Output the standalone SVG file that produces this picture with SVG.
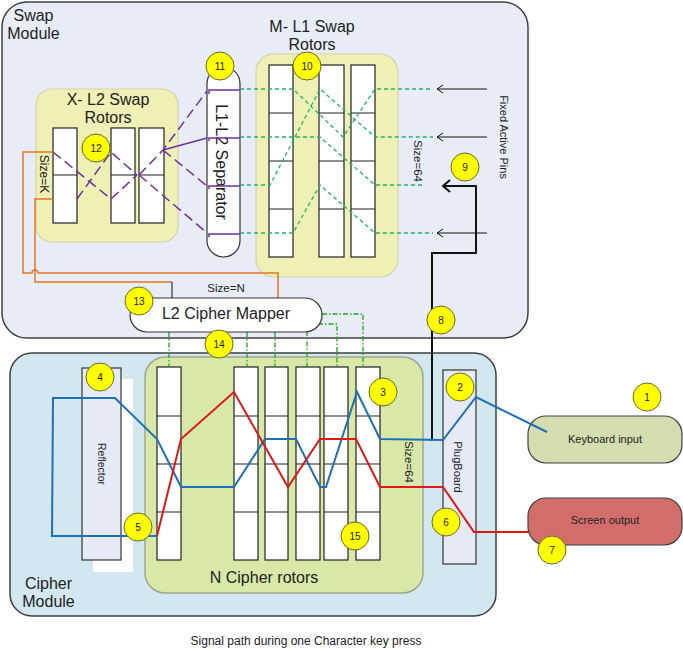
<svg xmlns="http://www.w3.org/2000/svg" width="683" height="650" viewBox="0 0 683 650">
<style>
text{font-family:"Liberation Sans",Arial,sans-serif;fill:#222}
.mod{stroke:#404040;stroke-width:1.5}
.ybox{fill:#eef0b6;stroke:#d4d4a2;stroke-width:1.2}
.gbox{fill:#d8e8a8;stroke:#9ea68c;stroke-width:1.5}
.col{fill:#fff;stroke:#222;stroke-width:1.2}
.div{stroke:#222;stroke-width:1.2}
.pill{fill:#fff;stroke:#333;stroke-width:1.2}
.bar{fill:#e6eaf6;stroke:#333;stroke-width:1.2}
.badge circle{fill:#ffff00;stroke:#6a6a30;stroke-width:1}
.badge text{font-size:10px;text-anchor:middle}
.pur{fill:none;stroke:#7030a0;stroke-width:1.5}
.purd{fill:none;stroke:#7030a0;stroke-width:1.5;stroke-dasharray:10,5}
.gd{fill:none;stroke:#1fb36b;stroke-width:1.3;stroke-dasharray:4,3}
.gdd{fill:none;stroke:#20a820;stroke-width:1.3;stroke-dasharray:5,2,1.5,2}
.or{fill:none;stroke:#e07828;stroke-width:1.5}
.blk{fill:none;stroke:#111;stroke-width:1}
.blk2{fill:none;stroke:#111;stroke-width:2}
.blue{fill:none;stroke:#2070b8;stroke-width:2}
.red{fill:none;stroke:#e01818;stroke-width:2}
.t16{font-size:16px;text-anchor:middle}
.t11{font-size:11px;text-anchor:middle}
</style>

<!-- Containers -->
<g id="swap-module">
  <rect class="mod" x="2" y="2" width="526" height="336" rx="25" fill="#e8ecf7"/>
  <text class="t16" x="33.5" y="21">Swap</text>
  <text class="t16" x="33.5" y="39">Module</text>
</g>
<g id="cipher-module">
  <rect class="mod" x="10" y="353" width="486" height="263" rx="22" fill="#d2e7ef"/>
  <text class="t16" x="48.5" y="589">Cipher</text>
  <text class="t16" x="48.5" y="607">Module</text>
</g>

<g id="x-l2-swap-rotors">
  <rect class="ybox" x="36" y="89" width="142" height="153" rx="16"/>
  <text class="t16" x="108" y="105">X- L2 Swap</text>
  <text class="t16" x="108" y="123">Rotors</text>
  <rect class="col" x="53" y="128" width="24" height="95"/>
  <rect class="col" x="111" y="128" width="24" height="95"/>
  <rect class="col" x="139" y="128" width="25" height="95"/>
  <path class="div" d="M53 175H77M111 175H135M139 175H164"/>
  <text font-size="12" text-anchor="middle" transform="translate(40,174) rotate(90)">Size=K</text>
</g>

<g id="l1-l2-separator">
  <rect class="pill" x="207" y="67" width="33" height="190" rx="16.5"/>
  <text font-size="16" text-anchor="middle" transform="translate(216,162) rotate(90)">L1-L2 Separator</text>
</g>

<g id="m-l1-swap-rotors">
  <rect class="ybox" x="256" y="54" width="142" height="223" rx="18"/>
  <text class="t16" x="312" y="32">M- L1 Swap</text>
  <text class="t16" x="312" y="50">Rotors</text>
  <rect class="col" x="269" y="65" width="24" height="192"/>
  <rect class="col" x="319" y="65" width="25" height="192"/>
  <rect class="col" x="351" y="65" width="24" height="192"/>
  <path class="div" d="M269 113H293M269 161H293M269 209H293M319 113H344M319 161H344M319 209H344M351 113H375M351 161H375M351 209H375"/>
  <text font-size="11.5" text-anchor="middle" transform="translate(414,161) rotate(90)">Size=64</text>
</g>

<g id="fixed-active-pins">
  <text font-size="11" text-anchor="middle" transform="translate(500,137) rotate(90)">Fixed Active Pins</text>
</g>

<g id="n-cipher-rotors">
  <rect class="gbox" x="145" y="357" width="278" height="236" rx="20"/>
  <text class="t16" x="264" y="583">N Cipher rotors</text>
  <rect class="col" x="157" y="367" width="24" height="193"/>
  <rect class="col" x="234" y="367" width="24" height="193"/>
  <rect class="col" x="265" y="367" width="23" height="193"/>
  <rect class="col" x="296" y="367" width="24" height="193"/>
  <rect class="col" x="324" y="367" width="24" height="193"/>
  <rect class="col" x="356" y="367" width="24" height="193"/>
  <path class="div" d="M157 416H181M157 464H181M157 512H181M234 416H258M234 464H258M234 512H258M265 416H288M265 464H288M265 512H288M296 416H320M296 464H320M296 512H320M324 416H348M324 464H348M324 512H348M356 416H380M356 464H380M356 512H380"/>
  <text font-size="11.5" text-anchor="middle" transform="translate(404.5,462) rotate(90)">Size=64</text>
</g>

<g id="reflector">
  <rect x="93" y="379" width="40" height="193" fill="#fff"/>
  <rect class="bar" x="82" y="368" width="39" height="192"/>
  <text font-size="10.5" text-anchor="middle" transform="translate(98,464) rotate(90)">Reflector</text>
</g>

<g id="plugboard">
  <rect class="bar" x="443" y="370" width="33" height="194"/>
  <text font-size="11" text-anchor="middle" transform="translate(454,467) rotate(90)">PlugBoard</text>
</g>

<g id="keyboard-input">
  <rect x="528" y="416" width="154" height="47" rx="18" fill="#d3ddb0" stroke="#404040" stroke-width="1.2"/>
  <text class="t11" x="605" y="443">Keyboard input</text>
</g>
<g id="screen-output">
  <rect x="528" y="498" width="154" height="47" rx="18" fill="#d26e6a" stroke="#404040" stroke-width="1.2"/>
  <text class="t11" x="605" y="524">Screen output</text>
</g>

<!-- Connectors -->
<g id="connectors">
  <!-- purple L2 swap wiring -->
  <path class="pur" d="M209 94V90H240M209 141V138H240M209 189V186H240M209 237V234H240"/>
  <path class="purd" d="M53 152L111 199L137 175"/>
  <path class="purd" d="M77 199L111 152L137 175"/>
  <path class="purd" d="M139 175L163 150L207 91"/>
  <path class="pur" d="M163 150L207 138"/>
  <path class="purd" d="M163 150L207 186"/>
  <path class="purd" d="M139 175L207 233"/>
  <!-- green L1 swap wiring -->
  <path class="gd" d="M240 89H293L343 137L375 89H433"/>
  <path class="gd" d="M240 137H320L375 185H422"/>
  <path class="gd" d="M240 185H270L320 89L375 137H433"/>
  <path class="gd" d="M240 233H293L320 185L375 233H433"/>
  <!-- fixed pin arrows -->
  <path class="blk" d="M487 89H437M443 85L437 89L443 93"/>
  <path class="blk" d="M487 137H437M443 133L437 137L443 141"/>
  <path class="blk" d="M487 233H437M443 229L437 233L443 237"/>
  <!-- orange L2 mapping -->
  <path class="or" d="M53 152H23V273H32A3 3 0 0 1 38 273H278V299"/>
  <path class="or" d="M53 199H35V282H172"/>
  <path fill="none" stroke="#333" stroke-width="1.2" d="M172 282V299"/>
  <!-- green dash-dot mapper to cipher rotors -->
  <path class="gdd" d="M169 332V367M247 332V367M275 332V367M307 331V367M318 324H337V367M322 314H363V367"/>
  <!-- signal path -->
  <path class="blk2" d="M432 441V253H476V186H443M450 180L443 186L450 192"/>
  <path class="blue" d="M547 432L476 397L443 440L380 439L357 392L326 487L320 487L296 439L265 439L234 487L181 487L157 439L115 398L53 398L52 536L157 536"/>
  <path class="red" d="M157 536L181 439L234 392L288 487L320 439L356 439L380 487L443 487L474 532L528 532"/>
</g>

<g id="l2-cipher-mapper">
  <rect class="pill" x="130" y="298" width="192" height="34" rx="17"/>
  <text class="t16" x="226" y="319">L2 Cipher Mapper</text>
  <text font-size="11.5" text-anchor="middle" x="226" y="292">Size=N</text>
</g>

<!-- Badges -->
<g id="badge-1" class="badge"><circle cx="647" cy="397" r="14"/><text x="647" y="400.5">1</text></g>
<g id="badge-2" class="badge"><circle cx="460" cy="387" r="14"/><text x="460" y="390.5">2</text></g>
<g id="badge-3" class="badge"><circle cx="383" cy="392" r="14"/><text x="383" y="395.5">3</text></g>
<g id="badge-4" class="badge"><circle cx="100" cy="377" r="14"/><text x="100" y="380.5">4</text></g>
<g id="badge-5" class="badge"><circle cx="138" cy="527" r="14"/><text x="138" y="530.5">5</text></g>
<g id="badge-6" class="badge"><circle cx="446" cy="522" r="14"/><text x="446" y="525.5">6</text></g>
<g id="badge-7" class="badge"><circle cx="552" cy="550" r="14"/><text x="552" y="553.5">7</text></g>
<g id="badge-8" class="badge"><circle cx="441" cy="320" r="14"/><text x="441" y="323.5">8</text></g>
<g id="badge-9" class="badge"><circle cx="465" cy="167" r="14"/><text x="465" y="170.5">9</text></g>
<g id="badge-10" class="badge"><circle cx="307" cy="66" r="14"/><text x="307" y="69.5">10</text></g>
<g id="badge-11" class="badge"><circle cx="220" cy="66" r="14"/><text x="220" y="69.5">11</text></g>
<g id="badge-12" class="badge"><circle cx="96" cy="148" r="14"/><text x="96" y="151.5">12</text></g>
<g id="badge-13" class="badge"><circle cx="139" cy="301" r="14"/><text x="139" y="304.5">13</text></g>
<g id="badge-14" class="badge"><circle cx="219" cy="344" r="14"/><text x="219" y="347.5">14</text></g>
<g id="badge-15" class="badge"><circle cx="355" cy="536" r="14"/><text x="355" y="539.5">15</text></g>

<g id="caption">
  <text font-size="12" text-anchor="middle" x="306" y="645">Signal path during one Character key press</text>
</g>
</svg>
